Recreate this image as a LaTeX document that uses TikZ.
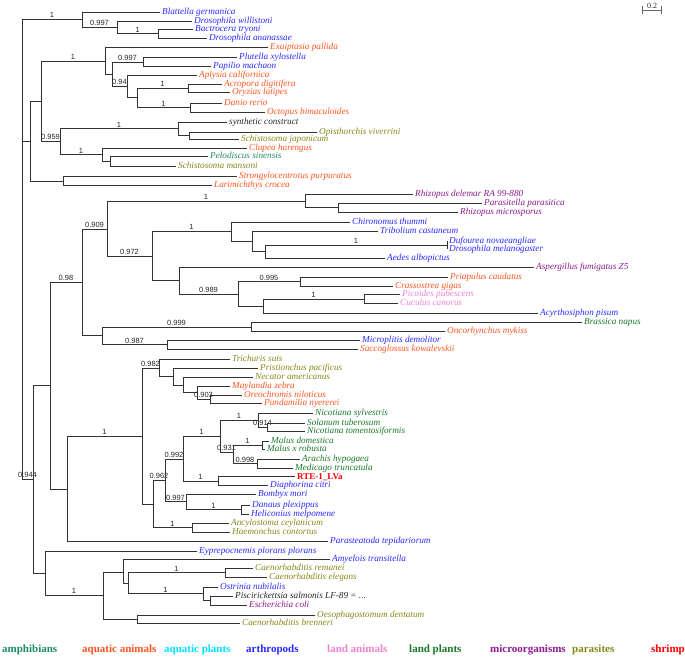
\documentclass[tikz,border=0pt]{standalone}
\usepackage{fontspec}
\setmainfont{Liberation Serif}
\setsansfont{Liberation Sans}
\usepackage{tikz}
\usetikzlibrary{arrows,positioning}
\usepackage{xcolor}
\definecolor{amphib}{RGB}{30,140,100}
\definecolor{aquanim}{RGB}{250,85,30}
\definecolor{aquplant}{RGB}{0,225,255}
\definecolor{arthro}{RGB}{40,40,255}
\definecolor{landanim}{RGB}{235,130,205}
\definecolor{landplant}{RGB}{25,120,40}
\definecolor{microorg}{RGB}{140,25,140}
\definecolor{parasit}{RGB}{135,135,25}
\definecolor{shrimpred}{RGB}{255,0,0}
\tikzset{
    branch/.style={
        line width=0.9pt,
        black!80
    },
    support/.style={
        above,
        inner sep=0.6pt,
        black!85,
        font=\sffamily\fontsize{7.5}{8}\selectfont
    },
    leaf/.style={
        anchor=west,
        inner sep=2pt,
        text height=1.3ex,
        text depth=.3ex,
        font=\fontsize{9.2}{10}\selectfont\itshape
    },
    arthleaf/.style={leaf, text=arthro},
    aqualeaf/.style={leaf, text=aquanim},
    plantleaf/.style={leaf, text=landplant},
    parleaf/.style={leaf, text=parasit},
    microleaf/.style={leaf, text=microorg},
    amphleaf/.style={leaf, text=amphib},
    landleaf/.style={leaf, text=landanim},
    plainleaf/.style={leaf, text=black!85},
    legend/.style={
        anchor=base west,
        inner sep=0pt,
        font=\fontsize{11}{12}\selectfont\bfseries
    }
}
\begin{document}
\begin{tikzpicture}[x=1pt,y=-1pt]
    \useasboundingbox (0,0) rectangle (685,657);
    \coordinate (root) at (22,141);

    % Top insects
    \coordinate (insA) at (82,19);
    \coordinate (insB) at (117,27);
    \coordinate (insC) at (158,33.5);
    \node[arthleaf] (blat) at (160,12) {Blattella germanica};
    \node[arthleaf] (dwil) at (192,21) {Drosophila willistoni};
    \node[arthleaf] (btry) at (193,29) {Bactrocera tryoni};
    \node[arthleaf] (dana) at (207,38) {Drosophila ananassae};
    \draw[branch] (root) |- (insA) node[support,pos=.75] {1};
    \draw[branch] (insA) |- (blat.west);
    \draw[branch] (insA) |- (insB) node[support,pos=.75] {0.997};
    \draw[branch] (insB) |- (dwil.west);
    \draw[branch] (insB) |- (insC) node[support,pos=.75] {1};
    \draw[branch] (insC) |- (btry.west);
    \draw[branch] (insC) |- (dana.west);

    % Aquatic animals and parasites
    \coordinate (mixB) at (30,141);
    \coordinate (mixB1) at (41,101);
    \coordinate (aqA) at (105,61);
    \coordinate (aqB) at (112,74);
    \coordinate (lepi) at (143,62);
    \coordinate (aqC) at (127,86);
    \coordinate (aqD) at (137,97.5);
    \coordinate (acrOry) at (188,88);
    \coordinate (danOct) at (190,107.5);
    \coordinate (mixC) at (60,141);
    \coordinate (synOpi) at (178,128.5);
    \coordinate (opiSch) at (189,135.5);
    \coordinate (cluPel) at (102,154.5);
    \coordinate (pelSch) at (110,161);
    \coordinate (strLar) at (63,181);
    \node[aqualeaf] (exai) at (268,47) {Exaiptasia pallida};
    \node[arthleaf] (plut) at (237,57) {Plutella xylostella};
    \node[arthleaf] (papi) at (211,66) {Papilio machaon};
    \node[aqualeaf] (aply) at (197,75) {Aplysia californica};
    \node[aqualeaf] (acro) at (222,84) {Acropora digitifera};
    \node[aqualeaf] (oryz) at (230,92.5) {Oryzias latipes};
    \node[aqualeaf] (dani) at (222,103) {Danio rerio};
    \node[aqualeaf] (octo) at (265,112) {Octopus bimaculoides};
    \node[plainleaf] (synt) at (227,122) {synthetic construct};
    \node[parleaf] (opis) at (317,132) {Opisthorchis viverrini};
    \node[parleaf] (schj) at (239,139) {Schistosoma japonicum};
    \node[aqualeaf] (clup) at (247,148) {Clupea harengus};
    \node[amphleaf] (pelo) at (208,156) {Pelodiscus sinensis};
    \node[parleaf] (schm) at (176,166) {Schistosoma mansoni};
    \node[aqualeaf] (stro) at (237,176.5) {Strongylocentrotus purpuratus};
    \node[aqualeaf] (lari) at (212,185.5) {Larimichthys crocea};
    \draw[branch] (root) |- (mixB);
    \draw[branch] (mixB) |- (mixB1);
    \draw[branch] (mixB) |- (strLar);
    \draw[branch] (mixB1) |- (aqA) node[support,pos=.75] {1};
    \draw[branch] (mixB1) |- (mixC) node[support,pos=.75] {0.959};
    \draw[branch] (aqA) |- (exai.west);
    \draw[branch] (aqA) |- (aqB);
    \draw[branch] (aqB) |- (lepi) node[support,pos=.75] {0.997};
    \draw[branch] (aqB) |- (aqC) node[support,pos=.75] {0.94};
    \draw[branch] (lepi) |- (plut.west);
    \draw[branch] (lepi) |- (papi.west);
    \draw[branch] (aqC) |- (aply.west);
    \draw[branch] (aqC) |- (aqD);
    \draw[branch] (aqD) |- (acrOry) node[support,pos=.75] {1};
    \draw[branch] (aqD) |- (danOct) node[support,pos=.75] {1};
    \draw[branch] (acrOry) |- (acro.west);
    \draw[branch] (acrOry) |- (oryz.west);
    \draw[branch] (danOct) |- (dani.west);
    \draw[branch] (danOct) |- (octo.west);
    \draw[branch] (mixC) |- (synOpi) node[support,pos=.75] {1};
    \draw[branch] (mixC) |- (cluPel) node[support,pos=.75] {1};
    \draw[branch] (synOpi) |- (synt.west);
    \draw[branch] (synOpi) |- (opiSch);
    \draw[branch] (opiSch) |- (opis.west);
    \draw[branch] (opiSch) |- (schj.west);
    \draw[branch] (cluPel) |- (clup.west);
    \draw[branch] (cluPel) |- (pelSch);
    \draw[branch] (pelSch) |- (pelo.west);
    \draw[branch] (pelSch) |- (schm.west);
    \draw[branch] (strLar) |- (stro.west);
    \draw[branch] (strLar) |- (lari.west);

    % Fungi, flies and others
    \coordinate (grpC) at (33,479);
    \coordinate (grpC1) at (50,385);
    \coordinate (fungA) at (82,282);
    \coordinate (fungB) at (107,229);
    \coordinate (rhizo) at (305,201);
    \coordinate (rhizoB) at (338,207.5);
    \coordinate (dipt) at (152,256);
    \coordinate (diptA) at (231,231);
    \coordinate (diptB) at (252,241);
    \coordinate (diptC) at (265,251);
    \coordinate (dufDme) at (447,245);
    \coordinate (aspA) at (179,280.5);
    \coordinate (aspB) at (238,294);
    \coordinate (priCra) at (300,281.5);
    \coordinate (birdAcy) at (263,306);
    \coordinate (birds) at (364,299);
    \coordinate (misc) at (102,335.5);
    \coordinate (braOnc) at (251,327);
    \coordinate (micSac) at (167,344.5);
    \node[microleaf] (rdel) at (413,194) {Rhizopus delemar RA 99-880};
    \node[microleaf] (para) at (482,203) {Parasitella parasitica};
    \node[microleaf] (rmic) at (458,212) {Rhizopus microsporus};
    \node[arthleaf] (chir) at (350,222) {Chironomus thummi};
    \node[arthleaf] (trib) at (378,231) {Tribolium castaneum};
    \node[arthleaf] (dufo) at (447,241) {Dufourea novaeangliae};
    \node[arthleaf] (dmel) at (447,249) {Drosophila melanogaster};
    \node[arthleaf] (aede) at (385,258) {Aedes albopictus};
    \node[microleaf] (aspe) at (534,267) {Aspergillus fumigatus Z5};
    \node[aqualeaf] (pria) at (448,277) {Priapulus caudatus};
    \node[aqualeaf] (cras) at (393,286) {Crassostrea gigas};
    \node[landleaf] (pico) at (400,294.5) {Picoides pubescens};
    \node[landleaf] (cucu) at (398,303.5) {Cuculus canorus};
    \node[arthleaf] (acyr) at (538,313) {Acyrthosiphon pisum};
    \node[plantleaf] (bras) at (582,322.5) {Brassica napus};
    \node[aqualeaf] (onco) at (445,331) {Oncorhynchus mykiss};
    \node[arthleaf] (micr) at (360,340) {Microplitis demolitor};
    \node[aqualeaf] (sacc) at (358,349) {Saccoglossus kowalevskii};
    \draw[branch] (root) |- (grpC) node[support,pos=.75] {0.944};
    \draw[branch] (grpC) |- (grpC1);
    \draw[branch] (grpC1) |- (fungA) node[support,pos=.75] {0.98};
    \draw[branch] (fungA) |- (fungB) node[support,pos=.75] {0.909};
    \draw[branch] (fungB) |- (rhizo) node[support,pos=.75] {1};
    \draw[branch] (rhizo) |- (rdel.west);
    \draw[branch] (rhizo) |- (rhizoB);
    \draw[branch] (rhizoB) |- (para.west);
    \draw[branch] (rhizoB) |- (rmic.west);
    \draw[branch] (fungB) |- (dipt) node[support,pos=.75] {0.972};
    \draw[branch] (dipt) |- (diptA) node[support,pos=.75] {1};
    \draw[branch] (diptA) |- (chir.west);
    \draw[branch] (diptA) |- (diptB);
    \draw[branch] (diptB) |- (trib.west);
    \draw[branch] (diptB) |- (diptC);
    \draw[branch] (diptC) |- (dufDme) node[support,pos=.75] {1};
    \draw[branch] (diptC) |- (aede.west);
    \draw[branch] (dufDme) |- (dufo.west);
    \draw[branch] (dufDme) |- (dmel.west);
    \draw[branch] (dipt) |- (aspA);
    \draw[branch] (aspA) |- (aspe.west);
    \draw[branch] (aspA) |- (aspB) node[support,pos=.75] {0.989};
    \draw[branch] (aspB) |- (priCra) node[support,pos=.75] {0.995};
    \draw[branch] (priCra) |- (pria.west);
    \draw[branch] (priCra) |- (cras.west);
    \draw[branch] (aspB) |- (birdAcy);
    \draw[branch] (birdAcy) |- (birds) node[support,pos=.75] {1};
    \draw[branch] (birds) |- (pico.west);
    \draw[branch] (birds) |- (cucu.west);
    \draw[branch] (birdAcy) |- (acyr.west);
    \draw[branch] (fungA) |- (misc);
    \draw[branch] (misc) |- (braOnc) node[support,pos=.75] {0.999};
    \draw[branch] (braOnc) |- (bras.west);
    \draw[branch] (braOnc) |- (onco.west);
    \draw[branch] (misc) |- (micSac) node[support,pos=.75] {0.987};
    \draw[branch] (micSac) |- (micr.west);
    \draw[branch] (micSac) |- (sacc.west);

    % Nematodes, fish and land plants
    \coordinate (grpC12) at (67,489);
    \coordinate (nemA) at (142,436);
    \coordinate (nemB) at (159,368);
    \coordinate (nemC) at (173,376);
    \coordinate (nemD) at (183,385);
    \coordinate (cich) at (197,392.5);
    \coordinate (orePun) at (210,399);
    \coordinate (plA) at (153,504);
    \coordinate (plB) at (165,480);
    \coordinate (plC) at (183,459);
    \coordinate (plD) at (220,436);
    \coordinate (solan) at (258,420);
    \coordinate (solB) at (267,427);
    \coordinate (rosFab) at (233,452);
    \coordinate (malus) at (262,445);
    \coordinate (fabac) at (257,463.5);
    \coordinate (rteDia) at (218,481);
    \coordinate (lepB) at (186,501.5);
    \coordinate (danHel) at (241,509.5);
    \coordinate (ancHae) at (192,527.5);
    \node[parleaf] (tric) at (230,359) {Trichuris suis};
    \node[parleaf] (pris) at (258,368) {Pristionchus pacificus};
    \node[parleaf] (neca) at (253,377) {Necator americanus};
    \node[aqualeaf] (mayl) at (230,386) {Maylandia zebra};
    \node[aqualeaf] (oreo) at (242,395) {Oreochromis niloticus};
    \node[aqualeaf] (pund) at (262,403) {Pundamilia nyererei};
    \node[plantleaf] (nsyl) at (313,413) {Nicotiana sylvestris};
    \node[plantleaf] (stub) at (305,423) {Solanum tuberosum};
    \node[plantleaf] (ntom) at (305,431.5) {Nicotiana tomentosiformis};
    \node[plantleaf] (mdom) at (269,441) {Malus domestica};
    \node[plantleaf] (mrob) at (265,449) {Malus x robusta};
    \node[plantleaf] (arac) at (300,459) {Arachis hypogaea};
    \node[plantleaf] (medi) at (293,468) {Medicago truncatula};
    \node[leaf, text=shrimpred, text depth=0pt, font=\fontsize{9}{10}\selectfont\bfseries] (rte) at (295,476.5) {RTE-1\_LVa};
    \node[arthleaf] (diap) at (268,485.5) {Diaphorina citri};
    \node[arthleaf] (bomb) at (256,494) {Bombyx mori};
    \node[arthleaf] (danp) at (250,505) {Danaus plexippus};
    \node[arthleaf] (heli) at (249,514) {Heliconius melpomene};
    \node[parleaf] (ancy) at (229,523) {Ancylostoma ceylanicum};
    \node[parleaf] (haem) at (230,532) {Haemonchus contortus};
    \node[arthleaf] (pars) at (328,541.5) {Parasteatoda tepidariorum};
    \draw[branch] (grpC1) |- (grpC12);
    \draw[branch] (grpC12) |- (nemA) node[support,pos=.75] {1};
    \draw[branch] (grpC12) |- (pars.west);
    \draw[branch] (nemA) |- (nemB) node[support,pos=.75] {0.982};
    \draw[branch] (nemB) |- (tric.west);
    \draw[branch] (nemB) |- (nemC);
    \draw[branch] (nemC) |- (pris.west);
    \draw[branch] (nemC) |- (nemD);
    \draw[branch] (nemD) |- (neca.west);
    \draw[branch] (nemD) |- (cich);
    \draw[branch] (cich) |- (mayl.west);
    \draw[branch] (cich) |- (orePun) node[support,pos=.75] {0.903};
    \draw[branch] (orePun) |- (oreo.west);
    \draw[branch] (orePun) |- (pund.west);
    \draw[branch] (nemA) |- (plA);
    \draw[branch] (plA) |- (plB) node[support,pos=.75] {0.962};
    \draw[branch] (plB) |- (plC) node[support,pos=.75] {0.992};
    \draw[branch] (plC) |- (plD) node[support,pos=.75] {1};
    \draw[branch] (plD) |- (solan) node[support,pos=.75] {1};
    \draw[branch] (solan) |- (nsyl.west);
    \draw[branch] (solan) |- (solB) node[support,pos=.75] {0.914};
    \draw[branch] (solB) |- (stub.west);
    \draw[branch] (solB) |- (ntom.west);
    \draw[branch] (plD) |- (rosFab) node[support,pos=.75] {0.931};
    \draw[branch] (rosFab) |- (malus) node[support,pos=.75] {1};
    \draw[branch] (malus) |- (mdom.west);
    \draw[branch] (malus) |- (mrob.west);
    \draw[branch] (rosFab) |- (fabac) node[support,pos=.75] {0.998};
    \draw[branch] (fabac) |- (arac.west);
    \draw[branch] (fabac) |- (medi.west);
    \draw[branch] (plC) |- (rteDia) node[support,pos=.75] {1};
    \draw[branch] (rteDia) |- (rte.west);
    \draw[branch] (rteDia) |- (diap.west);
    \draw[branch] (plB) |- (lepB) node[support,pos=.75] {0.997};
    \draw[branch] (lepB) |- (bomb.west);
    \draw[branch] (lepB) |- (danHel) node[support,pos=.75] {1};
    \draw[branch] (danHel) |- (danp.west);
    \draw[branch] (danHel) |- (heli.west);
    \draw[branch] (plA) |- (ancHae) node[support,pos=.75] {1};
    \draw[branch] (ancHae) |- (ancy.west);
    \draw[branch] (ancHae) |- (haem.west);

    % Bottom clade
    \coordinate (grpC2) at (45,573);
    \coordinate (nemE) at (103,595);
    \coordinate (nemF) at (123,572);
    \coordinate (nemG) at (128,583);
    \coordinate (caeno) at (225,572.5);
    \coordinate (bact) at (203,593.5);
    \coordinate (pisEco) at (210,600.5);
    \coordinate (oesCbr) at (137,619);
    \node[arthleaf] (eypr) at (197,551) {Eyprepocnemis plorans plorans};
    \node[arthleaf] (amye) at (330,559) {Amyelois transitella};
    \node[parleaf] (crem) at (253,568) {Caenorhabditis remanei};
    \node[parleaf] (cele) at (267,577) {Caenorhabditis elegans};
    \node[arthleaf] (ostr) at (218,587) {Ostrinia nubilalis};
    \node[plainleaf] (pisc) at (233,596) {Piscirickettsia salmonis LF-89 = ...};
    \node[microleaf] (ecol) at (247,605) {Escherichia coli};
    \node[parleaf] (oeso) at (315,615) {Oesophagostomum dentatum};
    \node[parleaf] (cbre) at (240,623) {Caenorhabditis brenneri};
    \draw[branch] (grpC) |- (grpC2);
    \draw[branch] (grpC2) |- (eypr.west);
    \draw[branch] (grpC2) |- (nemE) node[support,pos=.75] {1};
    \draw[branch] (nemE) |- (nemF);
    \draw[branch] (nemF) |- (amye.west);
    \draw[branch] (nemF) |- (nemG);
    \draw[branch] (nemG) |- (caeno) node[support,pos=.75] {1};
    \draw[branch] (caeno) |- (crem.west);
    \draw[branch] (caeno) |- (cele.west);
    \draw[branch] (nemG) |- (bact) node[support,pos=.75] {1};
    \draw[branch] (bact) |- (ostr.west);
    \draw[branch] (bact) |- (pisEco);
    \draw[branch] (pisEco) |- (pisc.west);
    \draw[branch] (pisEco) |- (ecol.west);
    \draw[branch] (nemE) |- (oesCbr);
    \draw[branch] (oesCbr) |- (oeso.west);
    \draw[branch] (oesCbr) |- (cbre.west);

    % Scale bar
    \coordinate (barL) at (642,10);
    \coordinate (barR) at (662,10);
    \draw[branch, black!60, |-|] (barL) -- (barR)
        node[midway, above, inner sep=1pt, black!85, font=\fontsize{8}{9}\selectfont] {0.2};

    % Legend
    \node[legend, text=amphib] (lgAmph) at (2,652) {amphibians};
    \node[legend, text=aquanim] (lgAqua) at (82,652) {aquatic animals};
    \node[legend, text=aquplant] (lgPlant) at (164,652) {aquatic plants};
    \node[legend, text=arthro] (lgArth) at (246,652) {arthropods};
    \node[legend, text=landanim] (lgLand) at (327,652) {land animals};
    \node[legend, text=landplant] (lgLpl) at (409,652) {land plants};
    \node[legend, text=microorg] (lgMicro) at (490,652) {microorganisms};
    \node[legend, text=parasit] (lgPar) at (572,652) {parasites};
    \node[legend, text=shrimpred] (lgShr) at (651,652) {shrimp};
\end{tikzpicture}
\end{document}
